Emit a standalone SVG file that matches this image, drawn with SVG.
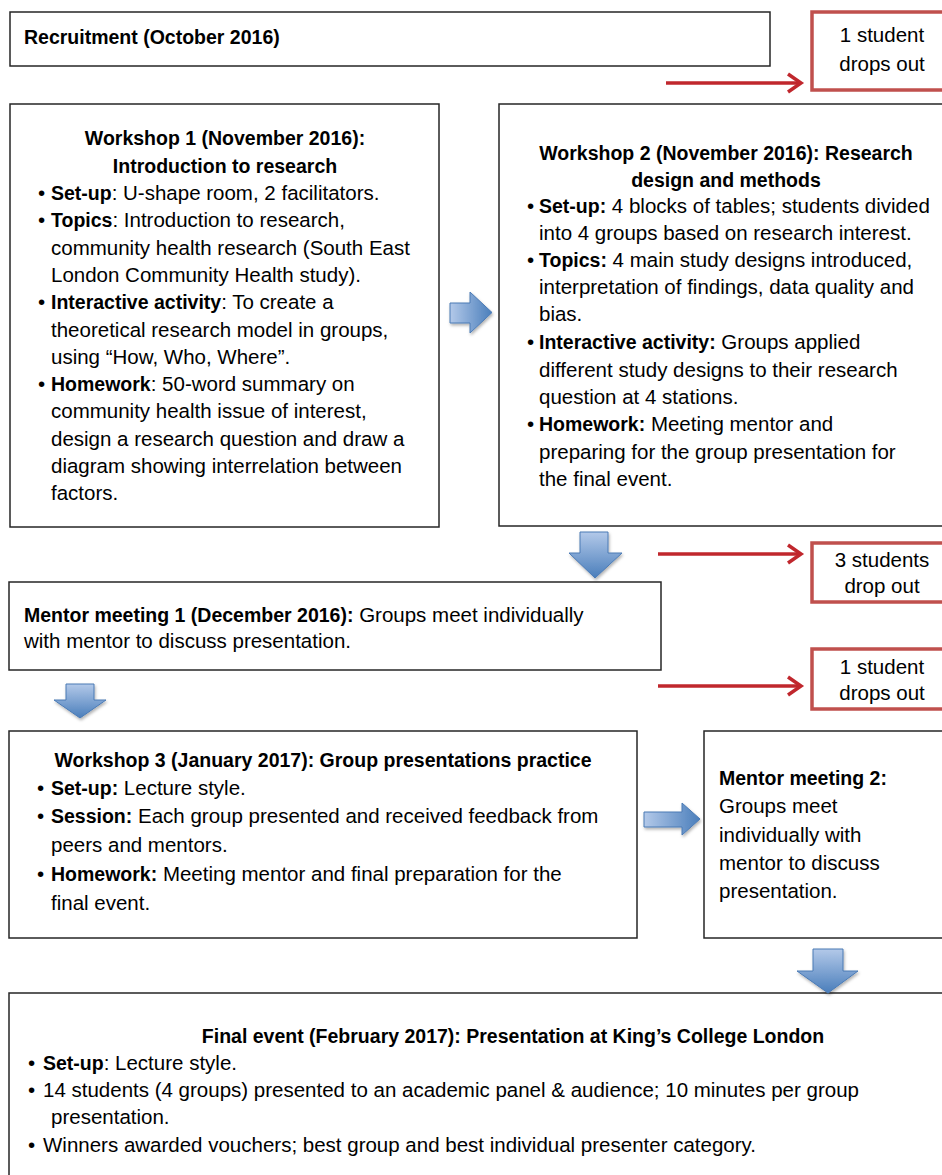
<svg xmlns="http://www.w3.org/2000/svg" width="942" height="1175" viewBox="0 0 942 1175">
<defs>
<style>
.box{fill:#fff;stroke:#262626;stroke-width:1.5}
.rbox{fill:#fff;stroke:#c0504d;stroke-width:3.5}
.t{font-family:"Liberation Sans",Arial,sans-serif;font-size:20.5px;fill:#000}
.b{font-weight:bold;font-size:19.5px}
.c{text-anchor:middle}
.ra{fill:none;stroke:#c0272d;stroke-width:3.5}
.ba{stroke:#4a7ab5;stroke-width:1;filter:url(#sh)}
</style>
<linearGradient id="gr" x1="0" y1="0" x2="1" y2="0">
<stop offset="0" stop-color="#b3c9e9"/><stop offset="1" stop-color="#4a7ebb"/>
</linearGradient>
<linearGradient id="gd" x1="0" y1="0" x2="0" y2="1">
<stop offset="0" stop-color="#b3c9e9"/><stop offset="1" stop-color="#4a7ebb"/>
</linearGradient>
<filter id="sh" x="-20%" y="-20%" width="150%" height="150%">
<feDropShadow dx="1" dy="2" stdDeviation="1.5" flood-color="#000" flood-opacity="0.3"/>
</filter>
</defs>

<g id="recruitment">
<rect class="box" x="10" y="12" width="760" height="54"/>
<text class="t b" x="24" y="44">Recruitment (October 2016)</text>
</g>

<g id="dropout1">
<rect class="rbox" x="812" y="12" width="140" height="78"/>
<text class="t c" x="882" y="42">1 student</text>
<text class="t c" x="882" y="71">drops out</text>
</g>

<g id="workshop1">
<rect class="box" x="10" y="104" width="429" height="423"/>
<text class="t b c" x="225" y="145">Workshop 1 (November 2016):</text>
<text class="t b c" x="225" y="173">Introduction to research</text>
<text class="t" x="38" y="200">•</text><text class="t" x="51" y="200"><tspan class="b">Set-up</tspan>: U-shape room, 2 facilitators.</text>
<text class="t" x="38" y="227">•</text><text class="t" x="51" y="227"><tspan class="b">Topics</tspan>: Introduction to research,</text>
<text class="t" x="51" y="255">community health research (South East</text>
<text class="t" x="51" y="282">London Community Health study).</text>
<text class="t" x="38" y="309">•</text><text class="t" x="51" y="309"><tspan class="b">Interactive activity</tspan>: To create a</text>
<text class="t" x="51" y="337">theoretical research model in groups,</text>
<text class="t" x="51" y="364">using “How, Who, Where”.</text>
<text class="t" x="38" y="391">•</text><text class="t" x="51" y="391"><tspan class="b">Homework</tspan>: 50-word summary on</text>
<text class="t" x="51" y="418">community health issue of interest,</text>
<text class="t" x="51" y="446">design a research question and draw a</text>
<text class="t" x="51" y="473">diagram showing interrelation between</text>
<text class="t" x="51" y="500">factors.</text>
</g>

<g id="workshop2">
<rect class="box" x="499" y="104" width="460" height="422"/>
<text class="t b c" x="726" y="160">Workshop 2 (November 2016): Research</text>
<text class="t b c" x="726" y="187">design and methods</text>
<text class="t" x="527" y="213">•</text><text class="t" x="539" y="213"><tspan class="b">Set-up:</tspan> 4 blocks of tables; students divided</text>
<text class="t" x="539" y="240">into 4 groups based on research interest.</text>
<text class="t" x="527" y="267">•</text><text class="t" x="539" y="267"><tspan class="b">Topics:</tspan> 4 main study designs introduced,</text>
<text class="t" x="539" y="294">interpretation of findings, data quality and</text>
<text class="t" x="539" y="321">bias.</text>
<text class="t" x="527" y="349">•</text><text class="t" x="539" y="349"><tspan class="b">Interactive activity:</tspan> Groups applied</text>
<text class="t" x="539" y="377">different study designs to their research</text>
<text class="t" x="539" y="404">question at 4 stations.</text>
<text class="t" x="527" y="431">•</text><text class="t" x="539" y="431"><tspan class="b">Homework:</tspan> Meeting mentor and</text>
<text class="t" x="539" y="459">preparing for the group presentation for</text>
<text class="t" x="539" y="486">the final event.</text>
</g>

<g id="dropout2">
<rect class="rbox" x="812" y="543" width="140" height="59"/>
<text class="t c" x="882" y="567">3 students</text>
<text class="t c" x="882" y="593">drop out</text>
</g>

<g id="mentor1">
<rect class="box" x="9" y="582" width="652" height="88"/>
<text class="t" x="24" y="622"><tspan class="b">Mentor meeting 1 (December 2016):</tspan> Groups meet individually</text>
<text class="t" x="24" y="648">with mentor to discuss presentation.</text>
</g>

<g id="dropout3">
<rect class="rbox" x="812" y="649" width="140" height="60"/>
<text class="t c" x="882" y="674">1 student</text>
<text class="t c" x="882" y="700">drops out</text>
</g>

<g id="workshop3">
<rect class="box" x="9" y="731" width="628" height="207"/>
<text class="t b c" x="323" y="767">Workshop 3 (January 2017): Group presentations practice</text>
<text class="t" x="37" y="795">•</text><text class="t" x="51" y="795"><tspan class="b">Set-up:</tspan> Lecture style.</text>
<text class="t" x="37" y="823">•</text><text class="t" x="51" y="823"><tspan class="b">Session:</tspan> Each group presented and received feedback from</text>
<text class="t" x="51" y="852">peers and mentors.</text>
<text class="t" x="37" y="881">•</text><text class="t" x="51" y="881"><tspan class="b">Homework:</tspan> Meeting mentor and final preparation for the</text>
<text class="t" x="51" y="910">final event.</text>
</g>

<g id="mentor2">
<rect class="box" x="704" y="731" width="260" height="207"/>
<text class="t b" x="719" y="785">Mentor meeting 2:</text>
<text class="t" x="719" y="813">Groups meet</text>
<text class="t" x="719" y="842">individually with</text>
<text class="t" x="719" y="870">mentor to discuss</text>
<text class="t" x="719" y="898">presentation.</text>
</g>

<g id="final">
<rect class="box" x="9" y="993" width="960" height="200"/>
<text class="t b c" x="513" y="1043">Final event (February 2017): Presentation at King’s College London</text>
<text class="t" x="28" y="1070">•</text><text class="t" x="43" y="1070"><tspan class="b">Set-up</tspan>: Lecture style.</text>
<text class="t" x="28" y="1097">•</text><text class="t" x="43" y="1097">14 students (4 groups) presented to an academic panel &amp; audience; 10 minutes per group</text>
<text class="t" x="51" y="1124">presentation.</text>
<text class="t" x="28" y="1152">•</text><text class="t" x="43" y="1152">Winners awarded vouchers; best group and best individual presenter category.</text>
</g>

<g id="connectors">
<path class="ra" d="M666 83H800"/><path class="ra" d="M788 74L801 83L788 92"/>
<path class="ra" d="M658 554H800"/><path class="ra" d="M788 545L801 554L788 563"/>
<path class="ra" d="M658 686H800"/><path class="ra" d="M788 677L801 686L788 695"/>
<path class="ba" fill="url(#gr)" d="M450 303H470V292L492 312.5L470 333V323H450Z"/>
<path class="ba" fill="url(#gd)" d="M580 532H608V553H622L595 578L569 553H580Z"/>
<path class="ba" fill="url(#gd)" d="M66 684H94V700H106L80 718L54 700H66Z"/>
<path class="ba" fill="url(#gr)" d="M644 812H682V803L700 819L682 835V827H644Z"/>
<path class="ba" fill="url(#gd)" d="M813 949H843V971H858L828 993L797 971H813Z"/>
</g>
</svg>
